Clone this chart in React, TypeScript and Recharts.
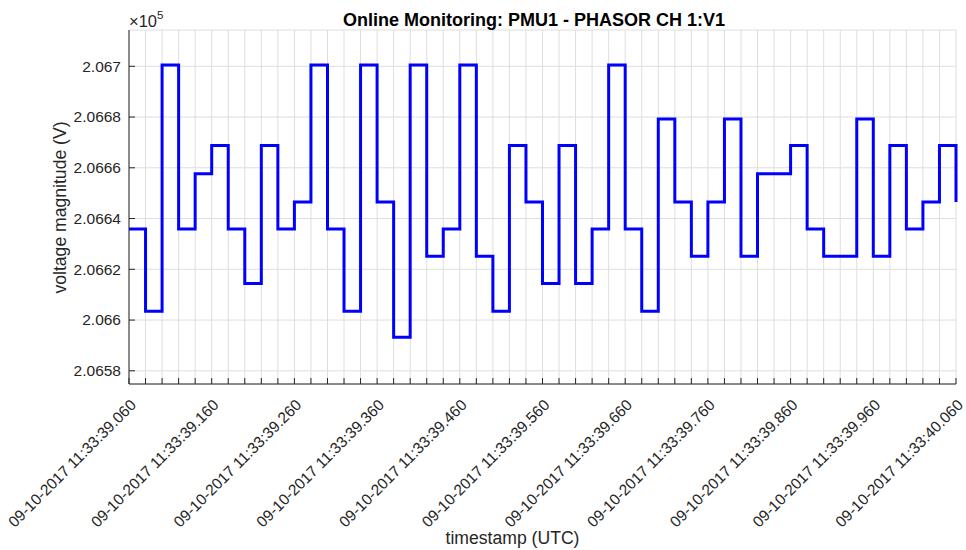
import React from 'react'
import { LineChart, Line, XAxis, YAxis, CartesianGrid } from 'recharts'

// time offsets (ms) from 09-10-2017 11:33:39.060, one PMU frame every 20 ms
const timesMs = [
  0, 20, 40, 60, 80, 100, 120, 140, 160, 180,
  200, 220, 240, 260, 280, 300, 320, 340, 360, 380,
  400, 420, 440, 460, 480, 500, 520, 540, 560, 580,
  600, 620, 640, 660, 680, 700, 720, 740, 760, 780,
  800, 820, 840, 860, 880, 900, 920, 940, 960, 980,
  1000,
]

// voltage magnitude (V)
const voltages = [
  206635.9, 206603.5, 206700.5, 206635.9, 206657.7, 206668.8, 206635.9, 206614.4, 206668.8, 206635.9,
  206646.5, 206700.5, 206635.9, 206603.5, 206700.5, 206646.5, 206593.2, 206700.5, 206625.1, 206635.9,
  206700.5, 206625.1, 206603.5, 206668.8, 206646.5, 206614.4, 206668.8, 206614.4, 206635.9, 206700.5,
  206635.9, 206603.5, 206679.2, 206646.5, 206625.1, 206646.5, 206679.2, 206625.1, 206657.7, 206657.7,
  206668.8, 206635.9, 206625.1, 206625.1, 206679.2, 206625.1, 206668.8, 206635.9, 206646.5, 206668.8,
  206646.5,
]

const majorXTicks = [0, 100, 200, 300, 400, 500, 600, 700, 800, 900, 1000]
const majorXLabels = [
  '09-10-2017 11:33:39.060',
  '09-10-2017 11:33:39.160',
  '09-10-2017 11:33:39.260',
  '09-10-2017 11:33:39.360',
  '09-10-2017 11:33:39.460',
  '09-10-2017 11:33:39.560',
  '09-10-2017 11:33:39.660',
  '09-10-2017 11:33:39.760',
  '09-10-2017 11:33:39.860',
  '09-10-2017 11:33:39.960',
  '09-10-2017 11:33:40.060',
]

const majorYTicks = [206580, 206600, 206620, 206640, 206660, 206680, 206700]
const minorYTicks = [
  206575, 206580, 206585, 206590, 206595, 206600, 206605, 206610, 206615, 206620,
  206625, 206630, 206635, 206640, 206645, 206650, 206655, 206660, 206665, 206670,
  206675, 206680, 206685, 206690, 206695, 206700, 206705, 206710,
]

const Y_DOMAIN: [number, number] = [206574.8, 206714.3]
const AXIS = '#262626'
const GRID = '#dedede'
const FONT = '"Liberation Sans", Arial, sans-serif'

const data = timesMs.map((t, i) => ({ t, v: voltages[i] }))

function fmtY(v: number) {
  return parseFloat((v / 1e5).toFixed(5)).toString()
}

function TimeTick({ x, y, payload }: any) {
  const idx = majorXTicks.indexOf(payload.value)
  const lx = x + 8
  const ly = y + 22
  return (
    <g>
      <line x1={x} y1={y} x2={x} y2={y - 6} stroke={AXIS} strokeWidth={1} />
      {idx >= 0 && (
        <text
          x={lx}
          y={ly}
          textAnchor="end"
          transform={`rotate(-45 ${lx} ${ly})`}
          fontSize={15.5}
          fontFamily={FONT}
          fill={AXIS}
        >
          {majorXLabels[idx]}
        </text>
      )}
    </g>
  )
}

function VoltTick({ x, y, payload }: any) {
  return (
    <g>
      <line x1={x} y1={y} x2={x + 6} y2={y} stroke={AXIS} strokeWidth={1} />
      <text x={x - 8} y={y} dy="0.35em" textAnchor="end" fontSize={15.5} fontFamily={FONT} fill={AXIS}>
        {fmtY(payload.value)}
      </text>
    </g>
  )
}

function MinorTick({ x, y }: any) {
  return <line x1={x} y1={y} x2={x + 6} y2={y} stroke={AXIS} strokeWidth={1} />
}

export default function App() {
  return (
    <div style={{ position: 'absolute', left: 0, top: 0, width: 966, height: 550, background: '#fff' }}>
      <LineChart width={966} height={550} data={data} margin={{ top: 30, right: 10, bottom: 0, left: 0 }}>
        <CartesianGrid stroke={GRID} />
        <XAxis
          dataKey="t"
          type="number"
          domain={[0, 1000]}
          ticks={timesMs}
          interval={0}
          height={166}
          tickSize={0}
          tickMargin={0}
          tickLine={false}
          axisLine={{ stroke: AXIS }}
          tick={(p: any) => <TimeTick {...p} />}
        />
        <YAxis
          yAxisId="minor"
          type="number"
          domain={Y_DOMAIN}
          allowDataOverflow
          ticks={minorYTicks}
          interval={0}
          width={0}
          tickSize={0}
          tickMargin={0}
          tickLine={false}
          axisLine={false}
          tick={(p: any) => <MinorTick {...p} />}
        />
        <YAxis
          type="number"
          domain={Y_DOMAIN}
          allowDataOverflow
          ticks={majorYTicks}
          interval={0}
          width={129}
          tickSize={0}
          tickMargin={0}
          tickLine={false}
          axisLine={{ stroke: AXIS }}
          tick={(p: any) => <VoltTick {...p} />}
        />
        <Line
          type="stepAfter"
          dataKey="v"
          stroke="#0000ff"
          strokeWidth={3}
          dot={false}
          activeDot={false}
          isAnimationActive={false}
        />
      </LineChart>
      <svg width={966} height={550} style={{ position: 'absolute', left: 0, top: 0, pointerEvents: 'none' }}>
        <text x={534} y={26} textAnchor="middle" fontSize={18} fontWeight="bold" fontFamily={FONT} fill="#000">
          Online Monitoring: PMU1 - PHASOR CH 1:V1
        </text>
        <text x={129} y={27} style={{ fontSize: '16.5px', fontFamily: FONT }} fill={AXIS}>
          <tspan>×10</tspan>
          <tspan dy={-8} style={{ fontSize: '11.5px' }}>5</tspan>
        </text>
        <text
          x={66}
          y={207.5}
          textAnchor="middle"
          transform="rotate(-90 66 207.5)"
          fontSize={17.6}
          fontFamily={FONT}
          fill={AXIS}
        >
          voltage magnitude (V)
        </text>
        <text x={512.5} y={544} textAnchor="middle" fontSize={17.6} fontFamily={FONT} fill={AXIS}>
          timestamp (UTC)
        </text>
      </svg>
    </div>
  )
}
